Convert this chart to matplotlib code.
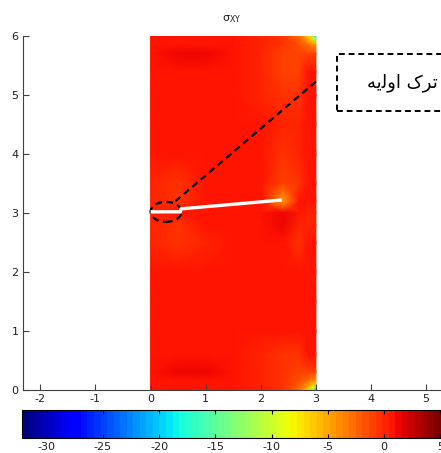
import numpy as np
import matplotlib
matplotlib.use("Agg")
import matplotlib.pyplot as plt
from matplotlib.patches import Ellipse, Rectangle

# grid of sigma_xy values (rows from y=6 down to y=0)
xs = [0.0, 0.5, 1.0, 1.5, 2.0, 2.4, 2.7, 2.85, 2.95, 3.0]
ys = [6.0, 5.95, 5.85, 5.7, 5.4, 5.0, 4.5, 4.0, 3.5, 3.2, 3.0, 2.8, 2.5, 2.0, 1.5, 1.0, 0.6, 0.3, 0.15, 0.05, 0.0]
sxy = [
    [0.5, 0.7, 0.7, 0.5, 0.2, -0.6, -3.0, -6.5, -12.0, -20.0],
    [0.5, 0.8, 0.8, 0.6, 0.2, -0.6, -2.5, -5.0, -8.0, -14.0],
    [0.5, 0.9, 0.9, 0.7, 0.2, -0.6, -1.8, -3.0, -4.0, -4.5],
    [0.5, 1.0, 1.0, 0.8, 0.3, -0.8, -1.2, -1.2, -0.8, -0.8],
    [0.5, 0.7, 0.8, 0.6, 0.3, -0.8, -0.8, 0.5, 0.8, 0.7],
    [0.5, 0.5, 0.5, 0.5, 0.4, -0.5, -0.2, 0.9, 0.8, 0.7],
    [0.5, 0.5, 0.5, 0.5, 0.5, 0.0, 0.4, 0.8, 0.7, 0.6],
    [0.5, 0.5, 0.5, 0.5, 0.5, -0.2, 0.4, 0.7, 0.6, 0.6],
    [0.4, -0.4, 0.6, 0.8, 0.5, -0.8, -0.3, 0.5, 0.5, 0.5],
    [0.4, -0.2, 0.8, 0.8, 0.7, -4.5, 0.7, 0.5, 0.5, 0.5],
    [0.4, 0.6, 0.6, 0.6, 0.9, 1.3, 0.6, 0.4, 0.4, 0.4],
    [0.4, -0.3, 0.5, 0.5, 0.9, 1.1, 0.2, 0.4, 0.4, 0.4],
    [0.4, -0.5, 0.3, 0.5, 0.8, 0.7, -0.2, 0.5, 0.5, 0.5],
    [0.5, 0.5, 0.5, 0.5, 0.6, 0.7, 0.6, 0.6, 0.5, 0.5],
    [0.5, 0.5, 0.5, 0.5, 0.6, 0.8, 0.8, 0.7, 0.6, 0.6],
    [0.5, 0.5, 0.5, 0.5, 0.5, 0.5, 0.7, 0.9, 0.8, 0.7],
    [0.6, 0.7, 0.7, 0.5, 0.1, -0.3, -0.2, 0.9, 0.8, 0.7],
    [0.8, 1.0, 1.0, 0.7, 0.1, -0.7, -1.2, -1.2, -0.8, -1.0],
    [0.8, 0.9, 0.9, 0.7, 0.3, -0.6, -1.8, -3.0, -4.0, -4.5],
    [0.7, 0.8, 0.8, 0.6, 0.3, -0.6, -2.5, -5.0, -8.0, -14.0],
    [0.6, 0.7, 0.7, 0.5, 0.3, -0.6, -3.0, -6.5, -12.0, -20.0],
]
vmin, vmax = -32.2, 5.07
cb_ticks = [-30, -25, -20, -15, -10, -5, 0, 5]

# crack path
crack_x = [0.0, 0.54, 0.55, 2.38]
crack_y = [3.02, 3.02, 3.07, 3.22]

# "initial crack" in presentation forms, visual order
label = "\uFEEA\uFBFE\uFEDF\uFEED\uFE8D \uFB8E\uFEAE\uFE97"

plt.rcParams['font.family'] = ['DejaVu Sans']
plt.rcParams['axes.unicode_minus'] = False
gray = '#404040'

fig = plt.figure(figsize=(4.41, 4.53), dpi=100)
ax = fig.add_axes([22.7/441, 63/453, 418.3/441, 354/453])
cmap = plt.get_cmap('jet', 64)
mesh = ax.pcolormesh(xs, ys, np.array(sxy), cmap=cmap, vmin=vmin, vmax=vmax,
                     shading='gouraud')

ax.plot(crack_x, crack_y, color='white', lw=2.4, solid_capstyle='butt')

ax.add_patch(Ellipse((0.28, 3.02), 0.56, 0.34, fill=False, ec='black',
                     lw=1.6, ls=(0, (3, 2))))
ax.plot([0.45, 3.03], [3.2, 5.25], color='black', lw=1.6, ls=(0, (3, 2)))

ax.add_patch(Rectangle((3.375, 4.73), 3.0, 0.96, fill=False, ec='black',
                       lw=1.4, ls=(0, (3, 2)), clip_on=False))
ax.text(5.21, 5.2, label, ha='right', va='center', fontsize=13)

ax.set_xlim(-2.32, 5.27)
ax.set_ylim(0, 6)
ax.set_xticks(range(-2, 6))
ax.set_yticks(range(0, 7))
for s in ['top', 'right']:
    ax.spines[s].set_visible(False)
for s in ['left', 'bottom']:
    ax.spines[s].set_color(gray)
ax.tick_params(direction='in', length=4, color=gray, labelcolor='#202020',
               labelsize=8, pad=3)
ax.set_title('σ$_{\\rm XY}$', fontsize=8, pad=11, color='#202020')

cax = fig.add_axes([22/441, 15/453, 419/441, 28/453])
cb = fig.colorbar(mesh, cax=cax, orientation='horizontal', ticks=cb_ticks)
cb.outline.set_edgecolor('black')
cax.tick_params(direction='in', top=True, bottom=True, length=3, color='black',
                labelcolor='#202020', labelsize=8, pad=3)

fig.savefig('out.png', dpi=100)
